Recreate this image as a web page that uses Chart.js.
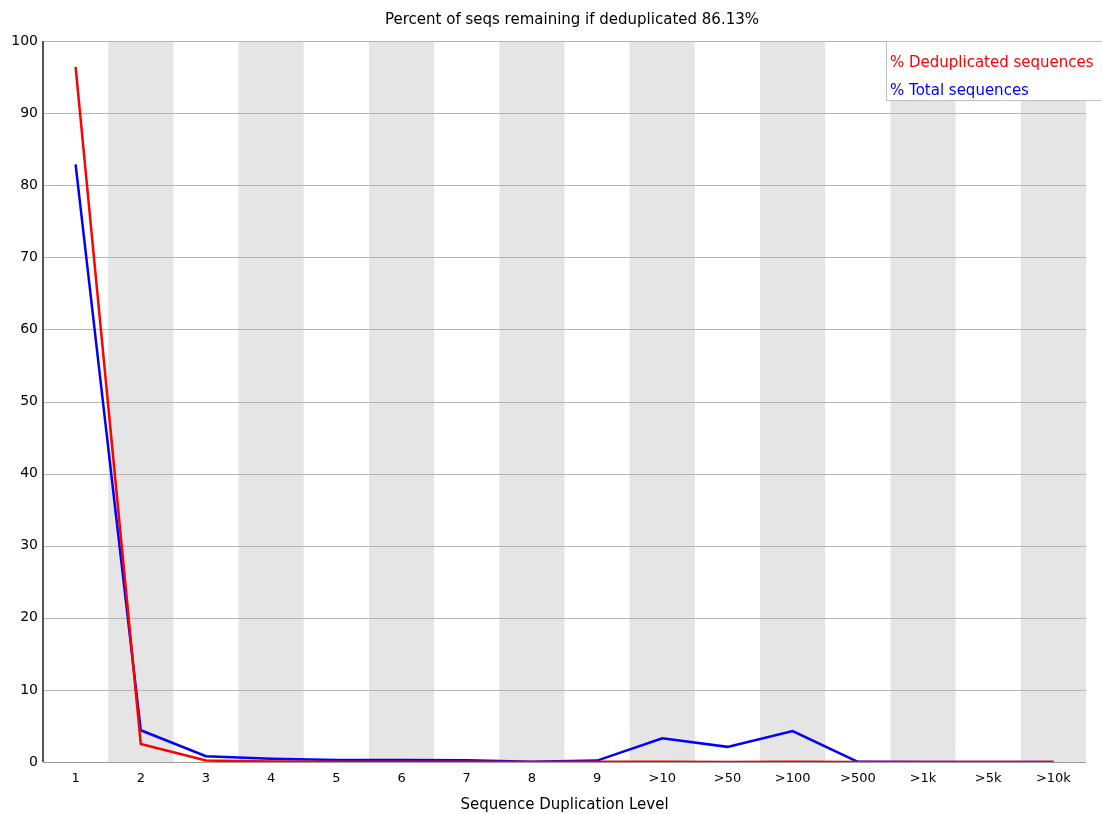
<!DOCTYPE html>
<html>
<head>
<meta charset="utf-8">
<script src="https://cdn.jsdelivr.net/npm/chart.js@4.4.1/dist/chart.umd.min.js"></script>
<style>
  html, body { margin: 0; padding: 0; background: #fff; }
  #wrap { width: 1102px; height: 814px; }
</style>
</head>
<body>
<div id="wrap"><canvas id="chart" width="1102" height="814"></canvas></div>
<script>
// Data
const levels = ['1', '2', '3', '4', '5', '6', '7', '8', '9', '>10', '>50', '>100', '>500', '>1k', '>5k', '>10k'];
const dedupPct = [96.4, 2.5, 0.2, 0.08, 0.05, 0.05, 0.04, 0.01, 0.02, 0.02, 0.01, 0.02, 0.0, 0.0, 0.0, 0.0];
const totalPct = [82.9, 4.4, 0.8, 0.45, 0.28, 0.28, 0.25, 0.05, 0.2, 3.3, 2.1, 4.3, 0.02, 0.0, 0.0, 0.0];
const titleText = 'Percent of seqs remaining if deduplicated 86.13%';
const fontFamily = '"DejaVu Sans", sans-serif';

// alternating grey bands behind the data
const bandsPlugin = {
    id: 'bands',
    beforeDatasetsDraw(chart) {
        const { ctx, chartArea, scales } = chart;
        const w = (chartArea.right - chartArea.left) / levels.length;
        ctx.save();
        ctx.fillStyle = '#e5e5e5';
        for (let i = 1; i < levels.length; i += 2) {
            let cx = scales.x.getPixelForValue(i);
            ctx.fillRect(cx - w / 2, chartArea.top, w, chartArea.bottom - chartArea.top);
        }
        // horizontal grid drawn over the bands
        ctx.strokeStyle = '#b4b4b4';
        ctx.lineWidth = 1;
        scales.y.ticks.forEach(t => {
            let y = Math.round(scales.y.getPixelForValue(t.value)) + 0.5;
            ctx.beginPath();
            ctx.moveTo(chartArea.left, y);
            ctx.lineTo(chartArea.right, y);
            ctx.stroke();
        });
        // axes
        ctx.strokeStyle = '#555';
        ctx.lineWidth = 2;
        ctx.beginPath();
        ctx.moveTo(chartArea.left, chartArea.top);
        ctx.lineTo(chartArea.left, chartArea.bottom);
        ctx.stroke();
        ctx.strokeStyle = '#999';
        ctx.lineWidth = 1;
        ctx.beginPath();
        ctx.moveTo(chartArea.left, chartArea.bottom + 0.5);
        ctx.lineTo(chartArea.right, chartArea.bottom + 0.5);
        ctx.stroke();
        ctx.restore();
    },
    afterDraw(chart) {
        const { ctx } = chart;
        ctx.save();
        // title
        ctx.fillStyle = '#000';
        ctx.font = '15px ' + fontFamily;
        ctx.textAlign = 'center';
        ctx.textBaseline = 'middle';
        ctx.fillText(titleText, 572, 20);
        // legend box
        ctx.fillStyle = '#fff';
        ctx.fillRect(886, 41, 230, 59);
        ctx.strokeStyle = '#c0c0c0';
        ctx.lineWidth = 1;
        ctx.strokeRect(886.5, 41.5, 230, 59);
        ctx.textAlign = 'left';
        ctx.font = '15px ' + fontFamily;
        ctx.fillStyle = '#ff0000';
        ctx.fillText('% Deduplicated sequences', 890, 63);
        ctx.fillStyle = '#0000ff';
        ctx.fillText('% Total sequences', 890, 91);
        ctx.restore();
    }
};

new Chart(document.getElementById('chart'), {
    type: 'line',
    data: {
        labels: levels,
        datasets: [
            {
                label: '% Deduplicated sequences',
                data: dedupPct,
                borderColor: '#ff0000',
                borderWidth: 2.5,
                pointRadius: 0,
                tension: 0,
                fill: false
            },
            {
                label: '% Total sequences',
                data: totalPct,
                borderColor: '#0000ff',
                borderWidth: 2.5,
                pointRadius: 0,
                tension: 0,
                fill: false
            }
        ]
    },
    options: {
        responsive: false,
        animation: false,
        layout: { padding: { top: 41, right: 16, left: 0, bottom: 0 } },
        plugins: {
            legend: { display: false },
            tooltip: { enabled: false },
            title: { display: false }
        },
        scales: {
            x: {
                offset: true,
                grid: { display: false, drawTicks: false },
                border: { display: false },
                ticks: {
                    color: '#000',
                    padding: 9,
                    font: { family: fontFamily, size: 13 },
                    maxRotation: 0,
                    autoSkip: false
                },
                title: {
                    display: true,
                    text: 'Sequence Duplication Level',
                    color: '#000',
                    font: { family: fontFamily, size: 15 },
                    padding: { top: 7, bottom: 0 }
                },
                afterFit(scale) { scale.height = 52; }
            },
            y: {
                min: 0,
                max: 100,
                grid: { display: false, drawTicks: false },
                border: { display: false },
                ticks: {
                    stepSize: 10,
                    color: '#000',
                    padding: 5,
                    font: { family: fontFamily, size: 14 }
                },
                afterFit(scale) { scale.width = 43; }
            }
        }
    },
    plugins: [bandsPlugin]
});
</script>
</body>
</html>
